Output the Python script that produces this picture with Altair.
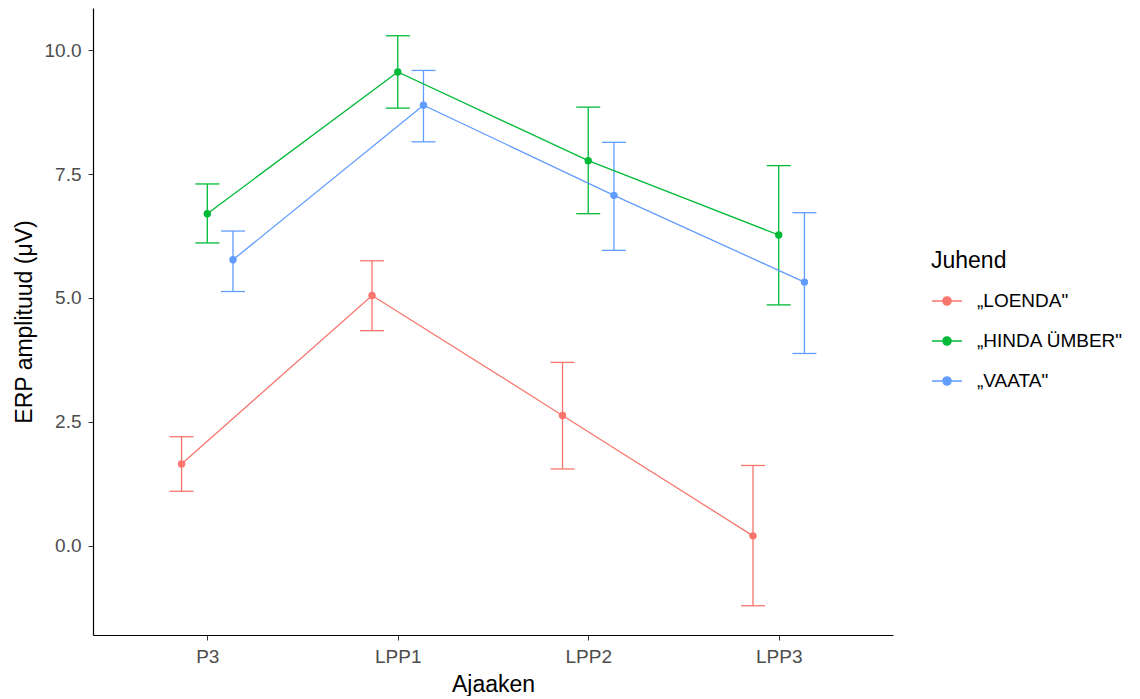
import altair as alt
import pandas as pd

conditions = ["P3", "LPP1", "LPP2", "LPP3"]
groups = ["„LOENDA\"", "„HINDA ÜMBER\"", "„VAATA\""]
colors = ["#F8766D", "#00BA38", "#619CFF"]

loenda_mean = [1.65, 5.05, 2.63, 0.20]
loenda_lo = [1.10, 4.34, 1.55, -1.21]
loenda_hi = [2.20, 5.75, 3.70, 1.62]

hinda_mean = [6.70, 9.56, 7.77, 6.27]
hinda_lo = [6.11, 8.83, 6.70, 4.86]
hinda_hi = [7.30, 10.29, 8.85, 7.67]

vaata_mean = [5.77, 8.89, 7.07, 5.32]
vaata_lo = [5.13, 8.15, 5.96, 3.88]
vaata_hi = [6.35, 9.59, 8.14, 6.72]

rows = []
for gi, (g, m, lo, hi) in enumerate([
    (groups[0], loenda_mean, loenda_lo, loenda_hi),
    (groups[1], hinda_mean, hinda_lo, hinda_hi),
    (groups[2], vaata_mean, vaata_lo, vaata_hi),
]):
    for ci, c in enumerate(conditions):
        rows.append({"cond": c, "ci": ci, "group": g, "gi": gi,
                     "mean": m[ci], "lo": lo[ci], "hi": hi[ci]})
df = pd.DataFrame(rows)

color_scale = alt.Scale(domain=groups, range=colors)
xscale = alt.Scale(domain=[-0.6, 3.6], nice=False, zero=False)
yscale = alt.Scale(domain=[-1.8, 10.85], nice=False, zero=False)

label_expr = "['P3','LPP1','LPP2','LPP3'][datum.value]"

base = alt.Chart(df).transform_calculate(
    xpos="datum.ci + (datum.gi - 1) * 0.135",
    xl="datum.ci + (datum.gi - 1) * 0.135 - 0.063",
    xr="datum.ci + (datum.gi - 1) * 0.135 + 0.063",
)

xax = alt.X("xpos:Q", scale=xscale, title="Ajaaken",
            axis=alt.Axis(values=[0, 1, 2, 3], labelExpr=label_expr,
                          labelPadding=7, titlePadding=7))
yax = alt.Y("mean:Q", scale=yscale, title="ERP amplituud (μV)",
            axis=alt.Axis(values=[0, 2.5, 5, 7.5, 10], format=".1f",
                          labelPadding=7, titlePadding=8))

legend = alt.Legend(
    title="Juhend", orient="none", legendX=838, legendY=242,
    symbolType="M -1 0 L 1 0 M 0.27 0 A 0.27 0.27 0 1 1 -0.27 0 A 0.27 0.27 0 1 1 0.27 0",
    symbolSize=900, symbolStrokeWidth=1.5, rowPadding=14,
    labelOffset=14, titlePadding=12)
col = alt.Color("group:N", scale=color_scale, sort=groups, legend=legend)

points = base.mark_point(filled=True, size=55, opacity=1, strokeWidth=1.5).encode(
    x=xax, y=yax, color=col)
err = base.mark_rule(strokeWidth=1.3).encode(
    x=xax, y=alt.Y("lo:Q", scale=yscale), y2="hi:Q", color=col)
cap_lo = base.mark_rule(strokeWidth=1.3).encode(
    x=alt.X("xl:Q", scale=xscale), x2="xr:Q", y=alt.Y("lo:Q", scale=yscale), color=col)
cap_hi = base.mark_rule(strokeWidth=1.3).encode(
    x=alt.X("xl:Q", scale=xscale), x2="xr:Q", y=alt.Y("hi:Q", scale=yscale), color=col)
lines = base.mark_line(strokeWidth=1.3).encode(
    x=xax, y=yax, color=col, detail="group:N", order="ci:Q")

chart = alt.layer(points, err, cap_lo, cap_hi, lines).properties(
    width=800, height=627, padding={"left": 5, "top": 0, "right": 5, "bottom": 0}
).configure_view(stroke=None).configure_axis(
    grid=False, domainColor="black", domainWidth=1.2, tickColor="#333333",
    tickSize=5, labelColor="#4D4D4D", labelFontSize=19, labelFont="Liberation Sans",
    titleFont="Liberation Sans", titleFontSize=23, titleFontWeight="normal",
    titleColor="black"
).configure_legend(
    titleFont="Liberation Sans", titleFontSize=23, titleFontWeight="normal",
    labelFont="Liberation Sans", labelFontSize=19, labelColor="black"
)

chart.save("out.html", embed_options={"renderer": "svg", "actions": False})
